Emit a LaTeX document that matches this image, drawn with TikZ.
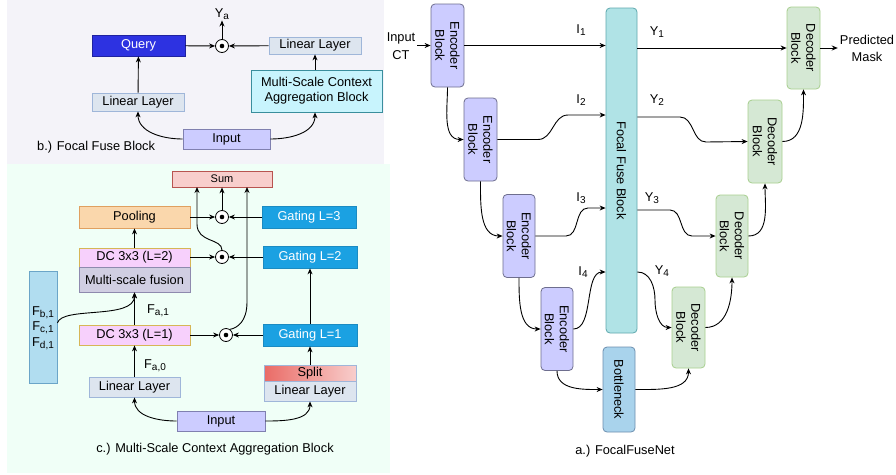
\documentclass[tikz,border=0pt]{standalone}
\usepackage{fontspec}
\setmainfont{Liberation Sans}
\usetikzlibrary{arrows.meta,calc}
\newcommand\mysub[1]{\raisebox{-0.3\height}{\fontsize{10}{10}\selectfont #1}}
\definecolor{bgB}{HTML}{F4F3F9}
\definecolor{bgC}{HTML}{F0FFF7}
\definecolor{qfill}{HTML}{2D32E1}
\definecolor{qdraw}{HTML}{1F22A0}
\definecolor{linfill}{HTML}{DDE5EF}
\definecolor{lindraw}{HTML}{9FB6D9}
\definecolor{mscafill}{HTML}{C8F4FD}
\definecolor{mscadraw}{HTML}{3A8E9D}
\definecolor{infill}{HTML}{CCCCFF}
\definecolor{indraw}{HTML}{8080B0}
\definecolor{sumfill}{HTML}{F8CECC}
\definecolor{sumdraw}{HTML}{B85450}
\definecolor{poolfill}{HTML}{FAD7AC}
\definecolor{pooldraw}{HTML}{E0A060}
\definecolor{gatfill}{HTML}{1BA1E2}
\definecolor{gatdraw}{HTML}{1B8BC2}
\definecolor{dcfill}{HTML}{F7D0FC}
\definecolor{dcdraw}{HTML}{D6B656}
\definecolor{fusfill}{HTML}{D0CEE2}
\definecolor{fusdraw}{HTML}{8E8AAE}
\definecolor{ffill}{HTML}{B1DDF0}
\definecolor{fdraw}{HTML}{6BA5C8}
\definecolor{splitL}{HTML}{EA6B66}
\definecolor{splitR}{HTML}{F8CECC}
\definecolor{encfill}{HTML}{CCCCFF}
\definecolor{encdraw}{HTML}{6E6E8E}
\definecolor{focfill}{HTML}{B0E3E6}
\definecolor{focdraw}{HTML}{5FA8AE}
\definecolor{botfill}{HTML}{A9D3EC}
\definecolor{botdraw}{HTML}{6C8EAF}
\definecolor{decfill}{HTML}{D5E8D4}
\definecolor{decdraw}{HTML}{A8CF8F}
\begin{document}
\begin{tikzpicture}[x=1pt,y=-1pt,
  font=\fontsize{12.8}{15}\selectfont,
  arr/.style={-{Stealth[length=6pt,width=5pt]}, line width=0.9pt},
  bx/.style={draw, line width=0.8pt, inner sep=0pt, align=center},
  linbox/.style={bx, fill=linfill, draw=lindraw},
  inbox/.style={bx, fill=infill, draw=indraw},
  gatbox/.style={bx, fill=gatfill, draw=gatdraw, text=white, minimum width=94, minimum height=22},
  dcbox/.style={bx, fill=dcfill, draw=dcdraw, minimum width=111},
  encbox/.style={bx, rounded corners=4pt, fill=encfill, draw=encdraw, minimum width=33, minimum height=83,
     label={[rotate=-90, align=center, font=\fontsize{12.8}{15}\selectfont]center:Encoder\\Block}},
  decbox/.style={bx, rounded corners=4pt, fill=decfill, draw=decdraw, minimum width=33, minimum height=82,
     label={[rotate=-90, align=center, font=\fontsize{12.8}{15}\selectfont]center:Decoder\\Block}},
  odot/.style={circle, draw, fill=white, minimum size=13pt, inner sep=0pt, line width=0.8pt},
  lbl/.style={inner sep=1pt}
]
\useasboundingbox (0,0) rectangle (896,474);
\fill[white] (0,0) rectangle (896,474);
\fill[bgB] (7,0) rectangle (384,164);
\fill[bgC] (7,164) rectangle (390,473);

% ---------------- panel b
\node[bx, fill=qfill, draw=qdraw, text=white, minimum width=93, minimum height=21] (query) at (138.5,45.5) {Query};
\node[odot] (cb) at (222,46) {};
\fill (cb) circle (2.3pt);
\node[lbl] (ya) at (222,14) {Y\mysub{a}};
\node[linbox, minimum width=92, minimum height=17] (linbr) at (315,45.5) {Linear Layer};
\node[bx, fill=mscafill, draw=mscadraw, minimum width=131, minimum height=42] (msca) at (316.5,91) {Multi-Scale Context\\Aggregation Block};
\node[linbox, minimum width=92, minimum height=18] (linbl) at (138,102) {Linear Layer};
\node[inbox, minimum width=87, minimum height=20] (inb) at (226.5,139) {Input};
\node[anchor=west, inner sep=0pt] (capb) at (37,147) {b.) Focal Fuse Block};

\draw[arr] (linbl) -- (query);
\draw[arr] (msca.north -| linbr) -- (linbr.south);
\draw[arr] (query) -- (cb);
\draw[arr] (linbr) -- (cb);
\draw[arr] (cb) -- (ya);
\draw[arr] (inb.west) to[out=180,in=-90] (linbl.south);
\draw[arr] (inb.east) to[out=0,in=-90] (msca.south -| linbr);

% ---------------- panel c
\node[bx, fill=sumfill, draw=sumdraw, minimum width=100, minimum height=16, font=\fontsize{11}{13}\selectfont] (sum) at (222,179) {Sum};
\node[bx, fill=poolfill, draw=pooldraw, minimum width=111, minimum height=22] (pool) at (134.5,217) {Pooling};
\node[odot] (c1) at (222,217) {};
\fill (c1) circle (2.3pt);
\node[gatbox] (gat3) at (309,217) {Gating L=3};
\node[dcbox, minimum height=19] (dc2) at (134.5,257.5) {DC 3x3 (L=2)};
\node[bx, fill=fusfill, draw=fusdraw, minimum width=111, minimum height=25] (fus) at (134.5,279.5) {Multi-scale fusion};
\node[odot] (c2) at (222,257) {};
\fill (c2) circle (2.3pt);
\node[gatbox] (gat2) at (310,257) {Gating L=2};
\node[bx, fill=ffill, draw=fdraw, minimum width=28, minimum height=112] (fbox) at (43,327) {};
\node[lbl] (fb) at (43,313) {F\mysub{b,1}};
\node[lbl] (fc) at (43,328) {F\mysub{c,1}};
\node[lbl] (fd) at (43,344) {F\mysub{d,1}};
\node[lbl] (fa1) at (158,311) {F\mysub{a,1}};
\node[dcbox, minimum height=20] (dc1) at (134.5,335) {DC 3x3 (L=1)};
\node[odot] (c3) at (226,335) {};
\fill (c3) circle (2.3pt);
\node[gatbox] (gat1) at (310,335) {Gating L=1};
\node[lbl] (fa0) at (155,366) {F\mysub{a,0}};
\node[bx, left color=splitL, right color=splitR, draw=lindraw, minimum width=92, minimum height=16] (split) at (310,373) {Split};
\node[linbox, minimum width=92, minimum height=20] (lincr) at (310,391) {Linear Layer};
\node[linbox, minimum width=91, minimum height=20] (lincl) at (134.5,387) {Linear Layer};
\node[inbox, minimum width=88, minimum height=20] (inc) at (221,421) {Input};
\node[inner sep=0pt] (capc) at (215,449) {c.) Multi-Scale Context Aggregation Block};

\draw[arr] (pool) -- (c1);
\draw[arr] (gat3) -- (c1);
\draw[arr] (c1) -- (sum.south -| c1);
\draw[arr] (dc2.east |- c2) -- (c2);
\draw[arr] (gat2) -- (c2);
\draw[arr] (c2.north) .. controls (222,238) and (197,243) .. (197,224) -- (197,187);
\draw[arr] (c3.55) .. controls (237,328) and (247,322) .. (247,302) -- (247,187);
\draw[arr] (dc1) -- (c3);
\draw[arr] (gat1) -- (c3);
\draw[arr] (gat1.north) -- (gat2.south);
\draw[arr] (split.north) -- (gat1.south);
\draw[arr] (lincl) -- (dc1);
\draw[arr] (dc1) -- (fus);
\draw[arr] (fbox.east |- 0,323) .. controls (62,306) and (134.5,320) .. (fus.south);
\draw[arr] (dc2) -- (pool);
\draw[arr] (inc.west) to[out=180,in=-90] (lincl.south);
\draw[arr] (inc.east) to[out=0,in=-90] (lincr.south);

% ---------------- panel a
\node[align=center, font=\fontsize{12.8}{18}\selectfont, inner sep=2pt] (inct) at (401,46) {Input\\CT};
\node[encbox] (enc1) at (447.5,45.5) {};
\node[encbox] (enc2) at (480.5,139.5) {};
\node[encbox, minimum width=32] (enc3) at (519,236) {};
\node[encbox, minimum width=32] (enc4) at (557,329) {};
\node[bx, rounded corners=4pt, fill=focfill, draw=focdraw, minimum width=31, minimum height=325,
  label={[rotate=-90]center:Focal Fuse Block}] (focal) at (621.5,170.5) {};
\node[bx, rounded corners=4pt, fill=botfill, draw=botdraw, minimum width=32, minimum height=85,
  label={[rotate=-90]center:Bottleneck}] (bott) at (619,389.5) {};
\node[decbox] (dec1) at (803.5,48) {};
\node[decbox, minimum width=34, minimum height=83] (dec2) at (765,141.5) {};
\node[decbox, minimum width=32] (dec3) at (732,236) {};
\node[decbox, minimum height=81] (dec4) at (688.5,327.5) {};
\node[align=center, font=\fontsize{12.8}{17}\selectfont, inner sep=2pt] (pm) at (867,48) {Predicted\\Mask};

\node[lbl] (i1) at (581,30) {I\mysub{1}};
\node[lbl] (i2) at (581,100) {I\mysub{2}};
\node[lbl] (i3) at (581,198) {I\mysub{3}};
\node[lbl] (i4) at (583,272) {I\mysub{4}};
\node[lbl] (y1) at (657,32) {Y\mysub{1}};
\node[lbl] (y2) at (657,100) {Y\mysub{2}};
\node[lbl] (y3) at (652,198) {Y\mysub{3}};
\node[lbl] (y4) at (662,271) {Y\mysub{4}};
\node[inner sep=0pt] (capa) at (625,451) {a.) FocalFuseNet};

\draw[arr] (inct.east |- enc1.west) -- (enc1.west);
\draw[arr] (enc1.east) -- (focal.west |- enc1.east);
\draw[arr] (enc2.east) -- (538,139.5) to[out=0,in=180] (568,115) -- (focal.west |- 0,115);
\draw[arr] (enc3.east) -- (566,236) to[out=0,in=180] (588,208) -- (focal.west |- 0,208);
\draw[arr] (enc4.east) .. controls (594,329) and (584,272) .. (focal.west |- 0,272);
\draw[arr] (enc1.south) to[out=-90,in=180] (enc2.west);
\draw[arr] (enc2.south) to[out=-90,in=180] (enc3.west);
\draw[arr] (enc3.south) to[out=-90,in=180] (enc4.west);
\draw[arr] (enc4.south) to[out=-90,in=180] (bott.west);

\draw[arr] (focal.east |- dec1.west) -- (dec1.west);
\draw[arr] (focal.east |- 0,117) -- (680,117) to[out=0,in=180] (706,142) -- (dec2.west);
\draw[arr] (focal.east |- 0,210) -- (670,210) to[out=0,in=180] (692,236) -- (dec3.west);
\draw[arr] (focal.east |- 0,272) to[out=0,in=90] (655,300) to[out=-90,in=180] (dec4.west);
\draw[arr] (bott.east) to[out=0,in=-90] (dec4.south);
\draw[arr] (dec4.east) to[out=0,in=-90] (dec3.south);
\draw[arr] (dec3.east) to[out=0,in=-90] (dec2.south);
\draw[arr] (dec2.east) to[out=0,in=-90] (dec1.south);
\draw[arr] (dec1.east) -- (pm.west |- dec1.east);
\end{tikzpicture}
\end{document}
